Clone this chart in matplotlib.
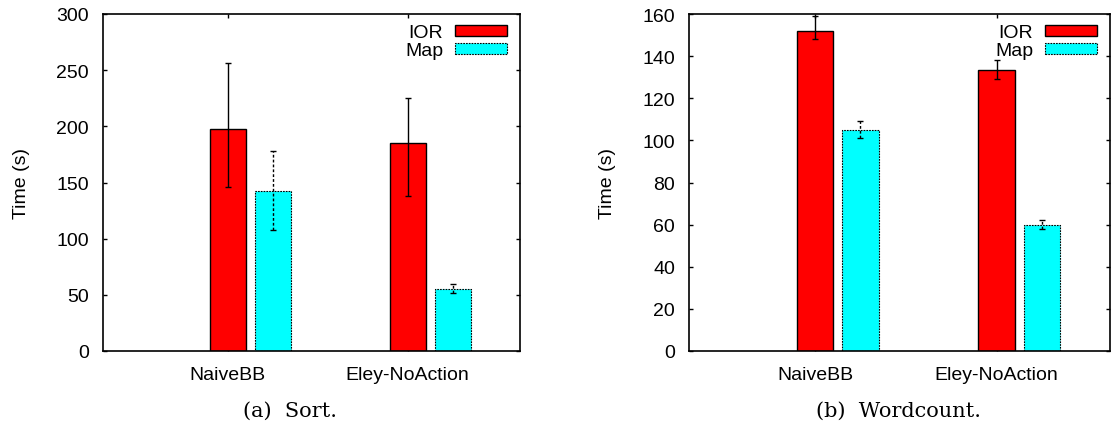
import matplotlib
matplotlib.use("Agg")
import matplotlib.pyplot as plt
from matplotlib.patches import Patch

# data
categories = ["NaiveBB", "Eley-NoAction"]
series = ["IOR", "Map"]

sort_ior = [198, 185]
sort_ior_lo = [146, 138]
sort_ior_hi = [256, 225]
sort_map = [142, 55]
sort_map_lo = [108, 52]
sort_map_hi = [178, 60]

wc_ior = [152, 133.5]
wc_ior_lo = [148, 129]
wc_ior_hi = [159, 138]
wc_map = [105, 60]
wc_map_lo = [101, 58]
wc_map_hi = [109, 62]

plt.rcParams['font.family'] = ['Liberation Sans', 'DejaVu Sans']

fig = plt.figure(figsize=(11.14, 4.39), dpi=100)
ax1 = fig.add_axes([103 / 1114, 87 / 439, 417 / 1114, 337 / 439])
ax2 = fig.add_axes([689 / 1114, 87 / 439, 421 / 1114, 337 / 439])

width = 0.2
fs = 14


def draw(ax, ior, ior_lo, ior_hi, mp, mp_lo, mp_hi, ymax, step):
    xr = [i - 0.125 for i in range(len(categories))]
    xm = [i + 0.125 for i in range(len(categories))]
    ax.bar(xr, ior, width, color='#ff0000', edgecolor='black', linewidth=1.0, zorder=2)
    ax.bar(xm, mp, width, color='#00ffff', edgecolor='black', linewidth=0.8,
           linestyle=(0, (1.5, 1)), zorder=2)
    ax.errorbar(xr, ior, yerr=[[v - l for v, l in zip(ior, ior_lo)],
                               [h - v for v, h in zip(ior, ior_hi)]],
                fmt='none', ecolor='black', elinewidth=1.0, capsize=2, zorder=3)
    e2 = ax.errorbar(xm, mp, yerr=[[v - l for v, l in zip(mp, mp_lo)],
                                   [h - v for v, h in zip(mp, mp_hi)]],
                     fmt='none', ecolor='black', elinewidth=1.0, capsize=2, zorder=3)
    e2[2][0].set_linestyle((0, (2, 1.5)))

    ax.set_xlim(-0.82, 1.5)
    ax.set_ylim(0, ymax)
    ax.set_yticks(range(0, ymax + 1, step))
    ax.set_xticks(xr)
    ax.set_xticklabels(categories)
    ax.tick_params(direction='in', length=3, width=1, labelsize=fs,
                   top=True, right=True)
    ax.tick_params(axis='x', pad=11)
    ax.tick_params(axis='y', pad=10)
    ax.set_ylabel("Time (s)", fontsize=fs, labelpad=19)
    for s in ax.spines.values():
        s.set_linewidth(1.2)

    handles = [Patch(facecolor='#ff0000', edgecolor='black', linewidth=1.0),
               Patch(facecolor='#00ffff', edgecolor='black', linewidth=0.8,
                     linestyle=(0, (1.5, 1)))]
    ax.legend(handles, series, loc='upper right', bbox_to_anchor=(0.998, 1.005),
              frameon=False, markerfirst=False, fontsize=fs,
              handlelength=2.7, handleheight=0.5, handletextpad=0.6,
              labelspacing=0.05, borderaxespad=0.2)


draw(ax1, sort_ior, sort_ior_lo, sort_ior_hi, sort_map, sort_map_lo, sort_map_hi, 300, 50)
draw(ax2, wc_ior, wc_ior_lo, wc_ior_hi, wc_map, wc_map_lo, wc_map_hi, 160, 20)

fig.text(290 / 1114, 1 - 411 / 439, "(a)  Sort.", family='DejaVu Serif',
         fontsize=15, ha='center', va='center')
fig.text(898 / 1114, 1 - 411 / 439, "(b)  Wordcount.", family='DejaVu Serif',
         fontsize=15, ha='center', va='center')

fig.savefig("out.png", dpi=100)
